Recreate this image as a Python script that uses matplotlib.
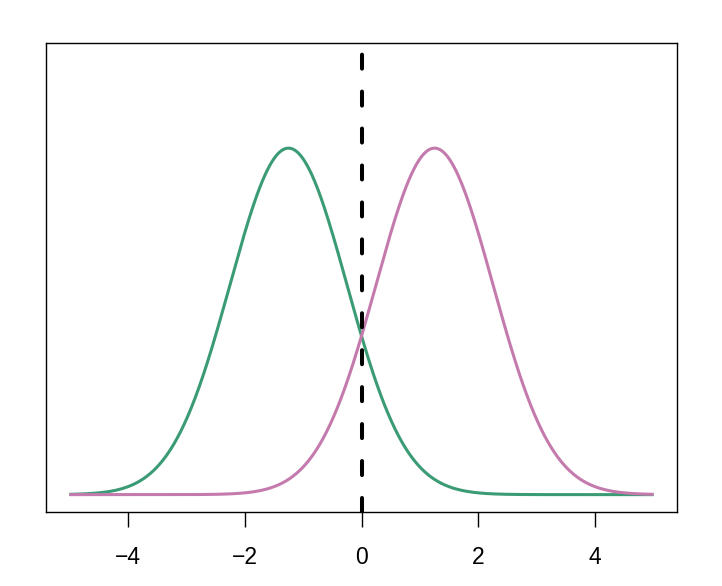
import numpy as np
import matplotlib
matplotlib.use("Agg")
import matplotlib.pyplot as plt

# Data: two normal densities (parameters)
means = [-1.25, 1.25]
sds = [1.0, 1.0]
colors = ["#3a9b74", "#c47aad"]
x_range = [-5, 5]
xticks = [-4, -2, 0, 2, 4]
vline_x = 0

plt.rcParams['font.family'] = ['Liberation Sans', 'DejaVu Sans']
plt.rcParams['lines.scale_dashes'] = False

fig = plt.figure(figsize=(7.22, 5.86), dpi=100)
ax = fig.add_axes([46/722, 1-512/586, (677-46)/722, (512-43)/586])

x = np.linspace(x_range[0], x_range[1], 1000)
for m, s, c in zip(means, sds, colors):
    y = np.exp(-0.5*((x-m)/s)**2)/(s*np.sqrt(2*np.pi))
    ax.plot(x, y, color=c, lw=2.2, solid_capstyle='butt')

ax.set_xlim(-5.4, 5.4)
ax.set_ylim(-0.02, 0.52)
ax.plot([vline_x, vline_x], [-0.02, 0.52], color='black', lw=2.9,
        linestyle=(0, (10.1, 16.5)), dash_capstyle='round')

ax.set_xticks(xticks)
ax.set_xticklabels([f"{t}".replace('-', '\u2212') for t in xticks], fontsize=16.5)
ax.set_yticks([])
ax.tick_params(axis='x', length=10.8, width=1.0, pad=14, direction='out')
for sp in ax.spines.values():
    sp.set_linewidth(1.0)

fig.savefig("out.png", dpi=100)
